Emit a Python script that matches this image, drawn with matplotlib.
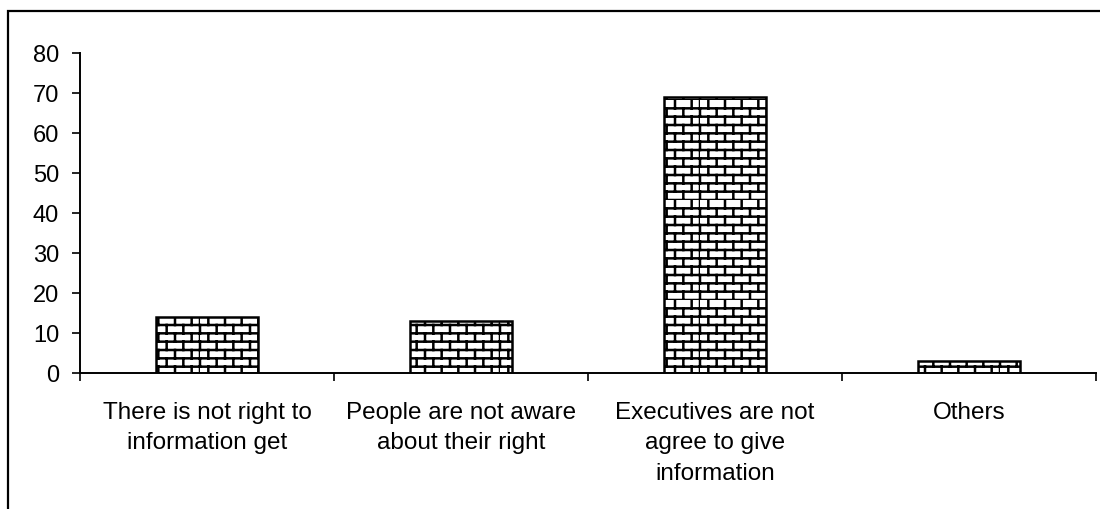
import warnings
import numpy as np
import matplotlib
matplotlib.use('Agg')
import matplotlib.pyplot as plt
from matplotlib import hatch as mhatch
from matplotlib.path import Path
from matplotlib.patches import Rectangle
from matplotlib.ticker import FixedLocator, NullFormatter

warnings.filterwarnings('ignore')

categories = [
    'There is not right to\ninformation get',
    'People are not aware\nabout their right',
    'Executives are not\nagree to give\ninformation',
    'Others',
]
values = [14, 13, 69, 3]
y_ticks = [0, 10, 20, 30, 40, 50, 60, 70, 80]


class BrickHatch(mhatch.HatchPatternBase):
    """Brick wall pattern, used with the 'b' hatch character."""
    rows = 12
    cols = 6

    def __init__(self, hatch, density):
        n = 1 if 'b' in hatch else 0
        # horizontal lines + vertical joints
        self.num_vertices = n * (self.rows * 2 + self.rows * (self.cols + 1) * 2)

    def set_vertices_and_codes(self, vertices, codes):
        h = 1.0 / self.rows
        w = 1.0 / self.cols
        k = 0
        for i in range(self.rows):
            y = i * h
            vertices[k] = (0.0, y)
            vertices[k + 1] = (1.0, y)
            k += 2
        for i in range(self.rows):
            y0 = i * h
            y1 = y0 + h
            off = 0.5 * w if i % 2 else 0.0
            for j in range(self.cols + 1):
                x = min(j * w + off, 1.0)
                vertices[k] = (x, y0)
                vertices[k + 1] = (x, y1)
                k += 2
        codes[0::2] = Path.MOVETO
        codes[1::2] = Path.LINETO


mhatch._hatch_types.append(BrickHatch)

plt.rcParams['font.family'] = ['Liberation Sans', 'DejaVu Sans']
plt.rcParams['hatch.linewidth'] = 1.8
plt.rcParams['hatch.color'] = '#111111'

fig = plt.figure(figsize=(11, 5.1), dpi=100)
ax = fig.add_axes([80 / 1100, 1 - 374 / 510, 1016 / 1100, 320 / 510])

x = np.arange(len(categories))
ax.bar(x, values, width=0.4, color='white', edgecolor='black',
       linewidth=1.8, hatch='b', zorder=2)

ax.set_xlim(-0.5, len(categories) - 0.5)
ax.set_ylim(0, 80)
ax.set_yticks(y_ticks)
ax.tick_params(axis='y', labelsize=17, length=6, width=1.2, pad=9)

# category labels at centres, ticks at boundaries
ax.set_xticks(x)
ax.set_xticklabels(categories, fontsize=17.5, linespacing=1.5, va='top')
ax.tick_params(axis='x', which='major', length=0, pad=20)
ax.xaxis.set_minor_locator(FixedLocator(np.arange(-0.5, len(categories) + 0.5, 1.0)))
ax.xaxis.set_minor_formatter(NullFormatter())
ax.tick_params(axis='x', which='minor', length=6, width=1.2)

for side in ['top', 'right']:
    ax.spines[side].set_visible(False)
for side in ['left', 'bottom']:
    ax.spines[side].set_linewidth(1.4)

# outer chart frame (top and left edges visible)
frame = Rectangle((8 / 1100, -0.05), 1.2, 1 - 12 / 510 + 0.05,
                  transform=fig.transFigure, fill=False,
                  edgecolor='black', linewidth=1.6)
fig.add_artist(frame)

fig.savefig('out.png', dpi=100)
